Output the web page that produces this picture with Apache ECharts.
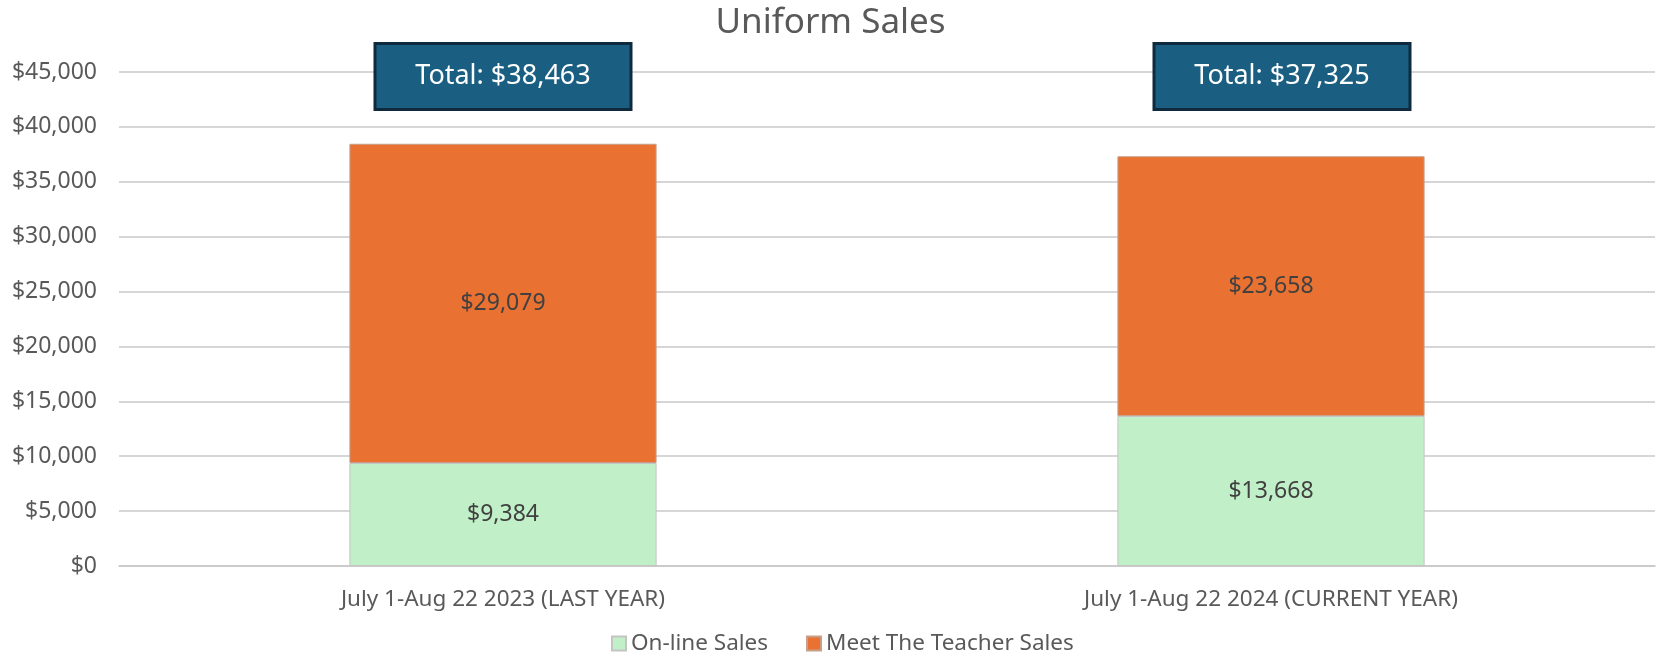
<!DOCTYPE html>
<html><head><meta charset="utf-8">
<script src="https://cdn.jsdelivr.net/npm/echarts@6/dist/echarts.min.js"></script>
<style>html,body{margin:0;padding:0;background:#fff}#c{width:1661px;height:656px}</style>
</head><body><div id="c"></div>
<script>
const categories = ['July 1-Aug 22 2023 (LAST YEAR)', 'July 1-Aug 22 2024 (CURRENT YEAR)'];
const onlineSales = [9384, 13668];
const meetTeacherSales = [29079, 23658];
const totals = [38463, 37325];
const yTicks = [0, 5000, 10000, 15000, 20000, 25000, 30000, 35000, 40000, 45000];

const FONT = 'Noto Sans';
const fmt = v => '$' + Math.round(v).toLocaleString('en-US');
const boxLevel = 44600;
const boxOffsets = [[0, 0], [11, 0]];

const chart = echarts.init(document.getElementById('c'));
chart.setOption({
  animation: false,
  textStyle: { fontFamily: FONT },
  title: {
    text: 'Uniform Sales', left: 'center', top: 1,
    textStyle: { fontFamily: FONT, fontSize: 35, fontWeight: 'normal', color: '#595959' }
  },
  legend: {
    bottom: -4, left: 606, itemWidth: 14, itemHeight: 14, itemGap: 38,
    icon: 'rect',
    textStyle: { fontFamily: FONT, fontSize: 22.5, color: '#595959' },
    data: ['On-line Sales', 'Meet The Teacher Sales']
  },
  grid: { left: 119, right: 6, top: 72, bottom: 90 },
  xAxis: {
    type: 'category', data: categories,
    axisTick: { show: false },
    axisLine: { lineStyle: { color: '#c8c8c8', width: 1.5 } },
    axisLabel: { fontFamily: FONT, fontSize: 22.5, color: '#595959', margin: 22 }
  },
  yAxis: {
    type: 'value', min: yTicks[0], max: yTicks[yTicks.length - 1], interval: yTicks[1] - yTicks[0],
    axisLine: { show: false }, axisTick: { show: false },
    splitLine: { lineStyle: { color: '#c8c8c8', width: 1.5 } },
    axisLabel: { fontFamily: FONT, fontSize: 23, color: '#595959', margin: 22, formatter: v => fmt(v) }
  },
  series: [
    {
      name: 'On-line Sales', type: 'bar', stack: 's', data: onlineSales, barWidth: '40%',
      itemStyle: { color: '#C1F0C8', borderColor: '#c4c4c4', borderWidth: 1 },
      label: { show: true, position: 'inside', fontFamily: FONT, fontSize: 23, color: '#404040', formatter: p => fmt(p.value) }
    },
    {
      name: 'Meet The Teacher Sales', type: 'bar', stack: 's', data: meetTeacherSales, barWidth: '40%',
      itemStyle: { color: '#E97132', borderColor: '#c8a08a', borderWidth: 1 },
      label: { show: true, position: 'inside', fontFamily: FONT, fontSize: 23, color: '#404040', formatter: p => fmt(p.value) }
    },
    {
      name: 'Totals', type: 'scatter', z: 10, symbolSize: 1,
      itemStyle: { color: 'rgba(0,0,0,0)', opacity: 1 },
      data: totals.map((t, i) => ({
        value: [i, boxLevel], total: t,
        label: { offset: boxOffsets[i] }
      })),
      label: {
        show: true, position: 'inside', fontFamily: FONT, fontSize: 27, color: '#ffffff', opacity: 1,
        backgroundColor: '#1A5F82', borderColor: '#0E2A3C', borderWidth: 3,
        width: 253, height: 63, lineHeight: 63, align: 'center', verticalAlign: 'middle',
        formatter: p => 'Total: ' + fmt(p.data.total)
      },
      emphasis: { disabled: true }
    }
  ]
});
</script></body></html>
